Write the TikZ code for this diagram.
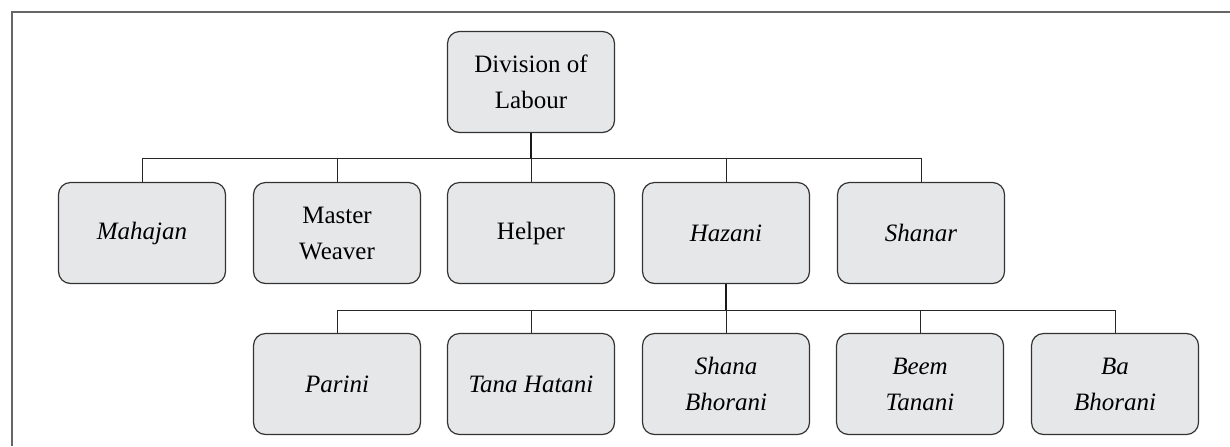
\documentclass[tikz,border=0pt]{standalone}
\usepackage{fontspec}
\setmainfont{Liberation Serif}
\definecolor{boxfill}{HTML}{E6E7E8}
\definecolor{boxline}{HTML}{333333}
\definecolor{framegray}{HTML}{666666}

\begin{document}
\begin{tikzpicture}[x = 0.5pt, y = -0.5pt,
    box/.style = {shape = rectangle, rounded corners = 6pt, draw = boxline, line width = 0.6pt,
        fill = boxfill, minimum width = 83.5pt, minimum height = 50.5pt, inner sep = 0pt,
        align = center, font = \fontsize{12.5}{18}\selectfont},
    it/.style = {box, font = \fontsize{12.5}{18}\selectfont\itshape},
    link/.style = {draw = black!85, line width = 0.5pt},
    stem/.style = {draw = black!90, line width = 0.9pt}]
    \useasboundingbox (0,0) rectangle (1230,446);
    \draw [draw = framegray, line width = 1pt] (1230,12) -- (12,12) -- (12,446);

    \node [box] (root) at (531,82) {Division of\\Labour};

    \node [it]  (mahajan) at (142,233) {Mahajan};
    \node [box] (master)  at (337,233) {Master\\Weaver};
    \node [box] (helper)  at (531,233) {Helper};
    \node [it]  (hazani)  at (726,233) {Hazani};
    \node [it]  (shanar)  at (921,233) {Shanar};

    \node [it] (parini) at (337,384) {Parini};
    \node [it] (tana)   at (531,384) {Tana Hatani};
    \node [it] (shana)  at (726,384) {Shana\\Bhorani};
    \node [it] (beem)   at (920,384) {Beem\\Tanani};
    \node [it] (ba)     at (1115,384) {Ba\\Bhorani};

    \coordinate (bus1) at (531,158);
    \coordinate (bus2) at (726,310);
    \foreach \n in {mahajan, master, helper, hazani, shanar}
        \draw [link] (bus1) -| (\n.north);
    \foreach \n in {parini, tana, shana, beem, ba}
        \draw [link] (bus2) -| (\n.north);
    \draw [stem] (root.south) -- (bus1);
    \draw [stem] (hazani.south) -- (bus2);
\end{tikzpicture}
\end{document}
